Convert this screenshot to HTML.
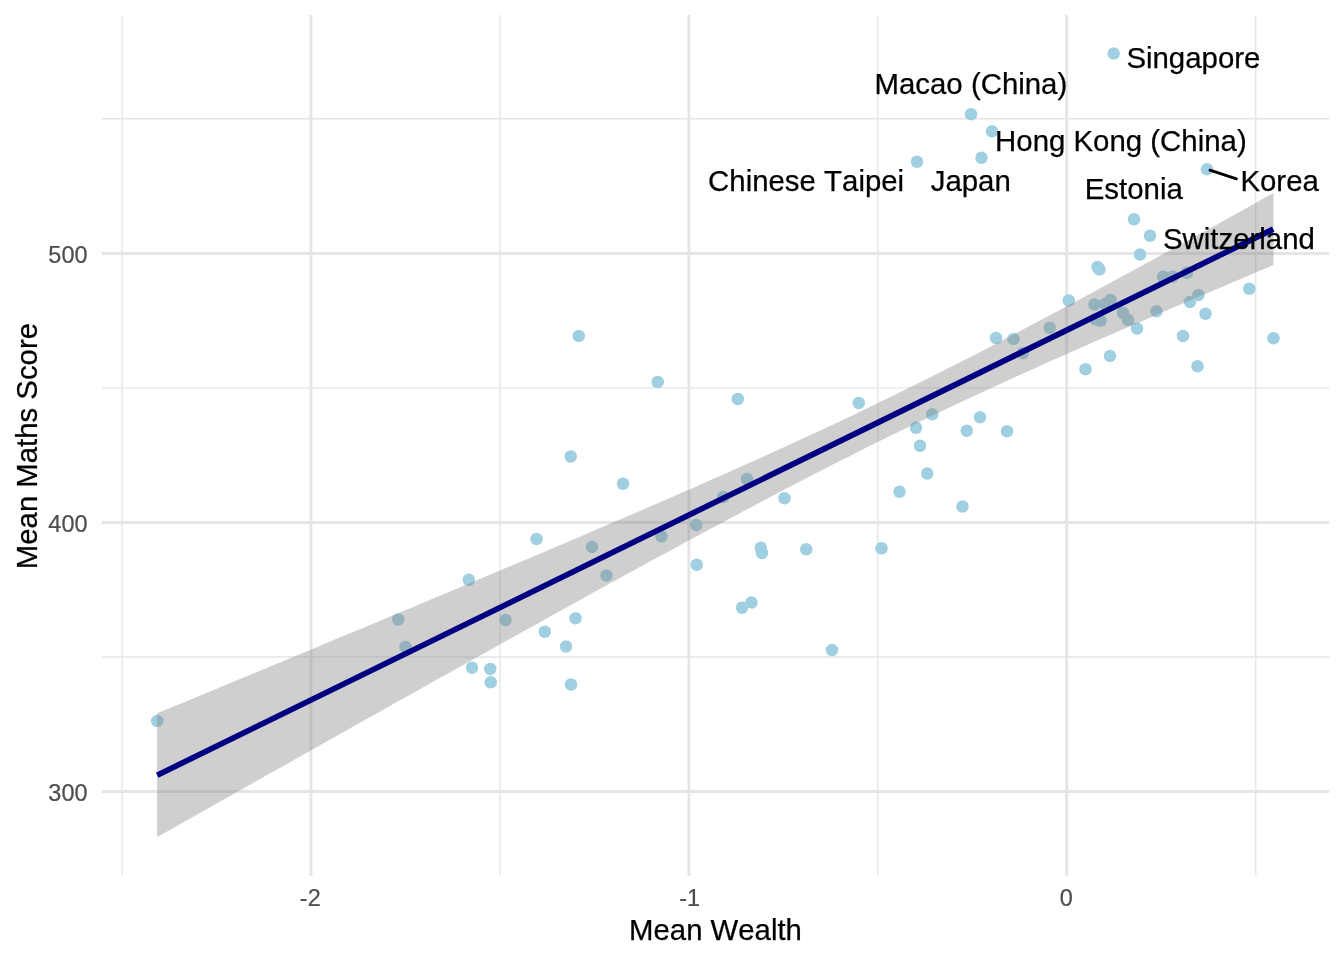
<!DOCTYPE html>
<html lang="en"><head><meta charset="utf-8"><title>Mean Maths Score vs Mean Wealth</title>
<style>html,body{margin:0;padding:0;background:#fff}svg{display:block;will-change:transform}text{font-family:"Liberation Sans",Arial,Helvetica,sans-serif;font-kerning:none;font-variant-ligatures:none}</style></head><body>
<svg width="1344" height="960" viewBox="0 0 1344 960">
<rect width="1344" height="960" fill="#fff"/>
<g stroke="#E5E5E5" stroke-width="1.42" fill="none">
<line x1="101.75" x2="1329.25" y1="118.75" y2="118.75"/>
<line x1="101.75" x2="1329.25" y1="387.9" y2="387.9"/>
<line x1="101.75" x2="1329.25" y1="657" y2="657"/>
<line x1="122.05" x2="122.05" y1="15" y2="875.75"/>
<line x1="499.95" x2="499.95" y1="15" y2="875.75"/>
<line x1="877.8" x2="877.8" y1="15" y2="875.75"/>
<line x1="1255.7" x2="1255.7" y1="15" y2="875.75"/>
</g>
<g stroke="#E5E5E5" stroke-width="2.85" fill="none">
<line x1="101.75" x2="1329.25" y1="253.45" y2="253.45"/>
<line x1="101.75" x2="1329.25" y1="522.5" y2="522.5"/>
<line x1="101.75" x2="1329.25" y1="791.5" y2="791.5"/>
<line x1="311" x2="311" y1="15" y2="875.75"/>
<line x1="688.9" x2="688.9" y1="15" y2="875.75"/>
<line x1="1066.7" x2="1066.7" y1="15" y2="875.75"/>
</g>
<g fill="#9FCFE0">
<circle cx="157.2" cy="721" r="6.25"/>
<circle cx="398.25" cy="619.5" r="6.25"/>
<circle cx="405.5" cy="647" r="6.25"/>
<circle cx="468.75" cy="579.75" r="6.25"/>
<circle cx="472" cy="667.75" r="6.25"/>
<circle cx="490.25" cy="669" r="6.25"/>
<circle cx="490.75" cy="682.25" r="6.25"/>
<circle cx="505.5" cy="620" r="6.25"/>
<circle cx="536.5" cy="539" r="6.25"/>
<circle cx="544.75" cy="631.75" r="6.25"/>
<circle cx="566" cy="646.5" r="6.25"/>
<circle cx="571" cy="684.5" r="6.25"/>
<circle cx="575.5" cy="618.25" r="6.25"/>
<circle cx="570.75" cy="456.5" r="6.25"/>
<circle cx="578.75" cy="336" r="6.25"/>
<circle cx="592" cy="547" r="6.25"/>
<circle cx="606.5" cy="575.5" r="6.25"/>
<circle cx="623" cy="483.75" r="6.25"/>
<circle cx="657.75" cy="382" r="6.25"/>
<circle cx="661.5" cy="536.5" r="6.25"/>
<circle cx="696.25" cy="525" r="6.25"/>
<circle cx="696.75" cy="564.75" r="6.25"/>
<circle cx="723.25" cy="497" r="6.25"/>
<circle cx="737.75" cy="399" r="6.25"/>
<circle cx="747" cy="479" r="6.25"/>
<circle cx="742" cy="607.75" r="6.25"/>
<circle cx="751.5" cy="602.5" r="6.25"/>
<circle cx="760.75" cy="547.75" r="6.25"/>
<circle cx="762" cy="553" r="6.25"/>
<circle cx="784.5" cy="498.25" r="6.25"/>
<circle cx="806.25" cy="549.25" r="6.25"/>
<circle cx="832" cy="650" r="6.25"/>
<circle cx="858.75" cy="403" r="6.25"/>
<circle cx="881.5" cy="548.25" r="6.25"/>
<circle cx="899.5" cy="491.75" r="6.25"/>
<circle cx="916" cy="427.75" r="6.25"/>
<circle cx="920" cy="445.75" r="6.25"/>
<circle cx="927.25" cy="473.5" r="6.25"/>
<circle cx="932.25" cy="414.25" r="6.25"/>
<circle cx="962.5" cy="506.5" r="6.25"/>
<circle cx="966.75" cy="430.75" r="6.25"/>
<circle cx="980" cy="417.25" r="6.25"/>
<circle cx="996" cy="338" r="6.25"/>
<circle cx="1007" cy="431.25" r="6.25"/>
<circle cx="1013.5" cy="339" r="6.25"/>
<circle cx="1023" cy="353" r="6.25"/>
<circle cx="1049.75" cy="327.75" r="6.25"/>
<circle cx="1068.75" cy="300.5" r="6.25"/>
<circle cx="1085.5" cy="369.25" r="6.25"/>
<circle cx="1094.5" cy="304.5" r="6.25"/>
<circle cx="1097.5" cy="267" r="6.25"/>
<circle cx="1099.5" cy="269.5" r="6.25"/>
<circle cx="1095.5" cy="319.25" r="6.25"/>
<circle cx="1100.5" cy="320.75" r="6.25"/>
<circle cx="1105" cy="304" r="6.25"/>
<circle cx="1110.5" cy="300" r="6.25"/>
<circle cx="1110" cy="356" r="6.25"/>
<circle cx="1123" cy="313" r="6.25"/>
<circle cx="1128" cy="320" r="6.25"/>
<circle cx="1137" cy="328.5" r="6.25"/>
<circle cx="1140" cy="254.5" r="6.25"/>
<circle cx="1134" cy="219.25" r="6.25"/>
<circle cx="1150" cy="235.75" r="6.25"/>
<circle cx="1156.5" cy="311.25" r="6.25"/>
<circle cx="1163" cy="276.75" r="6.25"/>
<circle cx="1172.5" cy="276.75" r="6.25"/>
<circle cx="1183" cy="336" r="6.25"/>
<circle cx="1187" cy="272.75" r="6.25"/>
<circle cx="1190" cy="302" r="6.25"/>
<circle cx="1198.5" cy="295" r="6.25"/>
<circle cx="1197.5" cy="366.25" r="6.25"/>
<circle cx="1205.5" cy="313.75" r="6.25"/>
<circle cx="1249.25" cy="288.75" r="6.25"/>
<circle cx="1273.5" cy="338.25" r="6.25"/>
<circle cx="1113.7" cy="53.6" r="6.25"/>
<circle cx="971" cy="114.25" r="6.25"/>
<circle cx="992.0" cy="131.3" r="6.25"/>
<circle cx="981.5" cy="157.75" r="6.25"/>
<circle cx="917" cy="161.75" r="6.25"/>
<circle cx="1207" cy="169.25" r="6.25"/>
</g>
<polygon points="157.1,713.3 171.2,707.5 185.4,701.7 199.5,695.8 213.6,690.0 227.8,684.1 241.9,678.2 256.0,672.4 270.2,666.5 284.3,660.7 298.4,654.8 312.6,648.9 326.7,643.0 340.8,637.1 355.0,631.3 369.1,625.4 383.2,619.5 397.3,613.6 411.5,607.7 425.6,601.8 439.7,595.8 453.9,589.9 468.0,584.0 482.1,578.0 496.3,572.1 510.4,566.1 524.5,560.2 538.7,554.2 552.8,548.2 566.9,542.2 581.1,536.2 595.2,530.1 609.3,524.1 623.5,518.0 637.6,511.9 651.7,505.8 665.9,499.7 680.0,493.5 694.1,487.4 708.3,481.1 722.4,474.9 736.5,468.6 750.7,462.3 764.8,455.9 778.9,449.5 793.1,443.0 807.2,436.5 821.3,430.0 835.4,423.4 849.6,416.7 863.7,409.9 877.8,403.1 892.0,396.2 906.1,389.3 920.2,382.3 934.4,375.2 948.5,368.1 962.6,360.9 976.8,353.7 990.9,346.4 1005.0,339.0 1019.2,331.6 1033.3,324.1 1047.4,316.6 1061.6,309.1 1075.7,301.5 1089.8,293.9 1104.0,286.3 1118.1,278.6 1132.2,270.9 1146.4,263.2 1160.5,255.5 1174.6,247.7 1188.8,240.0 1202.9,232.2 1217.0,224.4 1231.2,216.5 1245.3,208.7 1259.4,200.8 1273.5,193.0 1273.5,265.0 1259.4,270.9 1245.3,276.9 1231.2,282.9 1217.0,288.9 1202.9,294.9 1188.8,301.0 1174.6,307.0 1160.5,313.1 1146.4,319.2 1132.2,325.3 1118.1,331.4 1104.0,337.6 1089.8,343.8 1075.7,350.0 1061.6,356.3 1047.4,362.6 1033.3,368.9 1019.2,375.3 1005.0,381.7 990.9,388.2 976.8,394.7 962.6,401.3 948.5,407.9 934.4,414.6 920.2,421.4 906.1,428.2 892.0,435.1 877.8,442.1 863.7,449.1 849.6,456.2 835.4,463.3 821.3,470.5 807.2,477.8 793.1,485.1 778.9,492.5 764.8,499.9 750.7,507.4 736.5,514.9 722.4,522.4 708.3,530.0 694.1,537.6 680.0,545.3 665.9,552.9 651.7,560.6 637.6,568.3 623.5,576.1 609.3,583.8 595.2,591.6 581.1,599.4 566.9,607.2 552.8,615.1 538.7,622.9 524.5,630.8 510.4,638.6 496.3,646.5 482.1,654.4 468.0,662.3 453.9,670.2 439.7,678.1 425.6,686.0 411.5,693.9 397.3,701.8 383.2,709.7 369.1,717.7 355.0,725.6 340.8,733.6 326.7,741.5 312.6,749.5 298.4,757.4 284.3,765.4 270.2,773.3 256.0,781.3 241.9,789.3 227.8,797.2 213.6,805.2 199.5,813.2 185.4,821.2 171.2,829.2 157.1,837.1" fill="#888888" fill-opacity="0.4"/>
<line x1="157.2" y1="775.20" x2="1273.25" y2="229.12" stroke="#000080" stroke-width="5.69"/>
<line x1="1210" y1="170.1" x2="1236.4" y2="178.8" stroke="#000" stroke-width="2.85" stroke-linecap="round"/>
<g font-size="29.4" fill="#000" stroke="#000" stroke-width="0.25" text-anchor="middle">
<text x="1193.38" y="67.5">Singapore</text>
<text x="970.88" y="93.75">Macao (China)</text>
<text x="1120.88" y="150.7">Hong Kong (China)</text>
<text x="806.12" y="190.5">Chinese Taipei</text>
<text x="970.75" y="190.5">Japan</text>
<text x="1133.75" y="198.75">Estonia</text>
<text x="1279.62" y="190.5">Korea</text>
<text x="1238.88" y="248.75">Switzerland</text>
</g>
<g font-size="23.47" fill="#4D4D4D" stroke="#4D4D4D" stroke-width="0.2" text-anchor="end">
<text x="87.5" y="262.55">500</text>
<text x="87.5" y="531.80">400</text>
<text x="87.5" y="800.80">300</text>
</g>
<g font-size="23.47" fill="#4D4D4D" stroke="#4D4D4D" stroke-width="0.2" text-anchor="middle">
<text x="310.3" y="905.8">-2</text>
<text x="689.6" y="905.8">-1</text>
<text x="1066.3" y="905.8">0</text>
</g>
<text x="715.5" y="940" font-size="29.33" fill="#000" stroke="#000" stroke-width="0.25" text-anchor="middle">Mean Wealth</text>
<text transform="translate(36.5,446.1) rotate(-90)" font-size="29.33" fill="#000" stroke="#000" stroke-width="0.25" text-anchor="middle">Mean Maths Score</text>
</svg></body></html>
